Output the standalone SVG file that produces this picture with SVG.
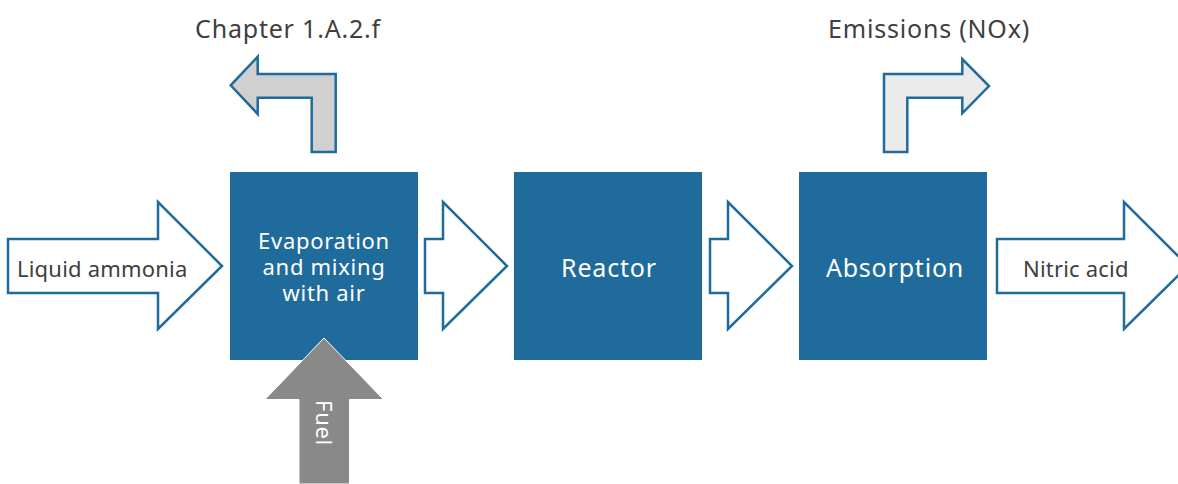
<svg xmlns="http://www.w3.org/2000/svg" width="1178" height="484" viewBox="0 0 1178 484">
<style>
.box{fill:#1f6b9b}
.arr{fill:#ffffff;stroke:#1f6b9b;stroke-width:2.5;stroke-linejoin:miter}
.t{font-family:"Noto Sans","Open Sans",sans-serif;font-size:22px;fill:#404040;letter-spacing:0.2px}
.w{font-family:"Noto Sans","Open Sans",sans-serif;font-size:22px;fill:#ffffff;text-anchor:middle;letter-spacing:0.7px}
.big{font-size:25px;letter-spacing:0.8px}
</style>
<rect width="1178" height="484" fill="#ffffff"/>
<g id="connectors">
<path class="arr" d="M8,239 H158 V202 L222,266 L158,329 V293 H8 Z"/>
<path class="arr" d="M425,239 H443 V202 L507,266 L443,329 V293 H425 Z"/>
<path class="arr" d="M710,239 H728 V202 L792,266 L728,329 V293 H710 Z"/>
<path class="arr" d="M997,239 H1124 V202 L1188,266 L1124,329 V293 H997 Z"/>
<path class="arr" style="fill:#d0d0d0" d="M335.7,152 V74 H257.7 V56.7 L230.7,85.3 L257.7,114 V97.7 H311.7 V152 Z"/>
<path class="arr" style="fill:#ebebeb" d="M884,152 V74 H962.3 V59 L989,86 L962.3,113.3 V97.7 H907.3 V152 Z"/>
</g>
<g id="n1"><rect class="box" x="230" y="172" width="188" height="188"/>
<text class="w" x="324" y="249">Evaporation<tspan x="324" dy="26">and mixing</tspan><tspan x="324" dy="26">with air</tspan></text></g>
<g id="n2"><rect class="box" x="514" y="172" width="188" height="188"/>
<text class="w big" x="609" y="277">Reactor</text></g>
<g id="n3"><rect class="box" x="799" y="172" width="188" height="188"/>
<text class="w big" x="895" y="277">Absorption</text></g>
<g id="fuel">
<path d="M324,338 L383.5,399.5 H349.5 V484 H299 V399.5 H265 Z" fill="#898989" stroke="#ffffff" stroke-width="1"/>
<text class="w" transform="translate(316,423) rotate(90)">Fuel</text>
</g>
<text class="t" x="17" y="277">Liquid ammonia</text>
<text class="t" x="1023" y="277">Nitric acid</text>
<text class="t big" x="288" y="38" text-anchor="middle">Chapter 1.A.2.f</text>
<text class="t big" x="929" y="38" text-anchor="middle">Emissions (NOx)</text>
</svg>
